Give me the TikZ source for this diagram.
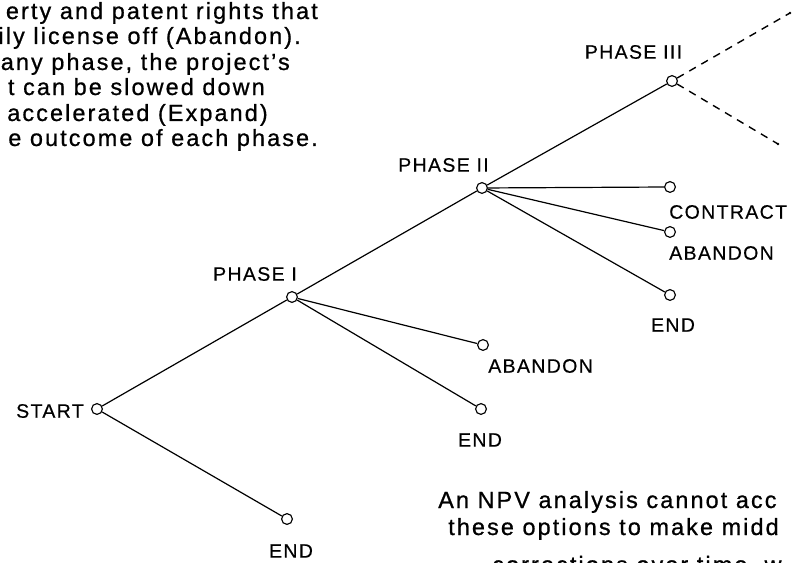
\documentclass[tikz,border=0pt]{standalone}
\usepackage{fontspec}
\setmainfont{Liberation Sans}
\newfontfamily\tagfont[LetterSpace=7, FakeBold=0.4]{Liberation Sans}
\newfontfamily\notefont[LetterSpace=9, FakeBold=0.8]{Liberation Sans}
\usetikzlibrary{arrows.meta, positioning}

\begin{document}
\begin{tikzpicture}[
  pt/.style={draw, circle, line width=0.9pt, minimum size=0.3cm, inner sep=0pt},
  tag/.style={inner sep=0pt, font=\tagfont\fontsize{15.4}{18}\selectfont},
  note/.style={inner sep=0pt, font=\notefont\fontsize{18.5}{22}\selectfont},
  br/.style={line width=0.95pt},
  opt/.style={line width=1.1pt, dash pattern=on 6pt off 5pt}
]
  \useasboundingbox (0,0) rectangle (22,15.611);
  \clip (0,0) rectangle (22,15.611);

  % Side notes (running text, cut at the frame)
  \node[note, anchor=base east] (n1) at (8.833, 15.083) {erty and patent rights that};
  \node[note, anchor=base east] (n2) at (8.361, 14.389) {ily license off (Abandon).};
  \node[note, anchor=base east] (n3) at (8.056, 13.667) {any phase, the project’s};
  \node[note, anchor=base east] (n4) at (7.361, 12.972) {t can be slowed down};
  \node[note, anchor=base east] (n5) at (7.444, 12.25)  {accelerated (Expand)};
  \node[note, anchor=base east] (n6) at (8.833, 11.556) {e outcome of each phase.};

  \node[note, anchor=base west] (m1) at (12.167, 1.5)   {An NPV analysis cannot acc};
  \node[note, anchor=base west] (m2) at (12.444, 0.75)  {these options to make midd};
  \node[note, anchor=base west] (m3) at (13.667, -0.3)  {corrections over time, w};

  % Decision points
  \node[pt] (s)  at (2.694, 4.25)  {};
  \node[pt] (p1) at (8.111, 7.361) {};
  \node[pt] (p2) at (13.389, 10.389) {};
  \node[pt] (p3) at (18.667, 13.361) {};

  % Outcomes
  \node[pt] (e0) at (7.972, 1.194) {};
  \node[pt] (a1) at (13.417, 6.028) {};
  \node[pt] (e1) at (13.361, 4.25) {};
  \node[pt] (c2) at (18.611, 10.417) {};
  \node[pt] (a2) at (18.611, 9.167) {};
  \node[pt] (e2) at (18.611, 7.417) {};

  \coordinate (up3)   at (21.944, 15.25);
  \coordinate (down3) at (21.611, 11.611);

  % Labels
  \node[tag, anchor=east] (ls)  at (2.333, 4.194) {START};
  \node[tag] (lp1) at (7.083, 8.0)    {PHASE I};
  \node[tag] (lp2) at (12.319, 11.028) {PHASE II};
  \node[tag] (lp3) at (17.597, 14.167) {PHASE III};
  \node[tag] (le0) at (8.083, 0.306)  {END};
  \node[tag, anchor=west] (la1) at (13.556, 5.444) {ABANDON};
  \node[tag] (le1) at (13.333, 3.389) {END};
  \node[tag, anchor=west] (lc2) at (18.583, 9.722) {CONTRACT};
  \node[tag, anchor=west] (la2) at (18.583, 8.583) {ABANDON};
  \node[tag] (le2) at (18.694, 6.583) {END};

  % Branches
  \draw[br] (s) -- (p1);
  \draw[br] (s) -- (e0);
  \draw[br] (p1) -- (p2);
  \draw[br] (p1) -- (a1);
  \draw[br] (p1) -- (e1);
  \draw[br] (p2) -- (p3);
  \draw[br] (p2) -- (c2);
  \draw[br] (p2) -- (a2);
  \draw[br] (p2) -- (e2);

  % Later phases, not yet known
  \draw[opt] (p3) -- (up3);
  \draw[opt] (p3) -- (down3);
  \fill (up3) circle (1.1pt);
  \fill (down3) circle (1.1pt);

\end{tikzpicture}
\end{document}
